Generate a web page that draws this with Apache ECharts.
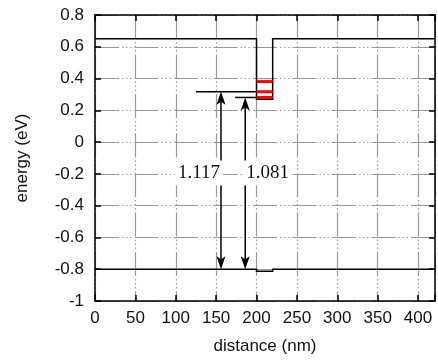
<!DOCTYPE html>
<html>
<head>
<meta charset="utf-8">
<script src="https://cdn.jsdelivr.net/npm/echarts@6/dist/echarts.min.js"></script>
<style>
  html, body { margin: 0; padding: 0; background: #fff; }
  #chart { width: 438px; height: 360px; }
</style>
</head>
<body>
<div id="chart"></div>
<script>
// Band edges along the growth direction (distance in nm, energy in eV)
const conductionBand = [[0, 0.65], [200, 0.65], [200, 0.27], [220, 0.27], [220, 0.65], [421, 0.65]];
const valenceBand = [[0, -0.8], [200, -0.8], [200, -0.812], [220, -0.812], [220, -0.8], [421, -0.8]];

// Confined levels in the well: [xStart, xEnd, energy]
const wellLevels = [[200, 220, 0.381], [200, 220, 0.317], [200, 220, 0.281]];

// Reference lines marking the transition start levels: [xStart, xEnd, energy]
const guideLines = [[125, 200, 0.317], [173.5, 200, 0.281]];

// Transition arrows: [x, upper energy, lower energy]
const transitions = [[156, 0.317, -0.8], [186, 0.281, -0.8]];

// Transition energy labels: [x, energy, text, alignment]
const transitionLabels = [[156, -0.2, '1.117', 'right'], [186, -0.2, '1.081', 'left']];

// Axis ranges and tick spacing
const xRange = [0, 421], xStep = 50;
const yRange = [-1, 0.8], yStep = 0.2;

const gridLine = {
  show: true,
  lineStyle: { color: '#999', width: 1.2, type: [24, 3, 1.5, 2.5, 1.5, 2.5, 1.5, 3] }
};
const sansFont = "'Liberation Sans', Arial, Helvetica, sans-serif";
const axisLineStyle = { show: true, onZero: false, lineStyle: { color: '#000', width: 1.5 } };
const tickStyle = { show: true, inside: true, length: 6, lineStyle: { color: '#000', width: 1.5 } };

// One polyline per band profile, drawn from every point of the profile
function bandRenderer(points) {
  return function (params, api) {
    if (params.dataIndex !== 0) return null;
    return {
      type: 'polyline',
      shape: { points: points.map(p => api.coord(p)) },
      style: { stroke: '#000', lineWidth: 1.5, fill: null, lineJoin: 'miter' }
    };
  };
}

function segmentRenderer(color, width) {
  return function (params, api) {
    const a = api.coord([api.value(0), api.value(2)]);
    const b = api.coord([api.value(1), api.value(2)]);
    return {
      type: 'line',
      shape: { x1: a[0], y1: a[1], x2: b[0], y2: b[1] },
      style: { stroke: color, lineWidth: width }
    };
  };
}

function arrowRenderer(params, api) {
  const x = api.value(0);
  const top = api.coord([x, api.value(1)]);
  const bot = api.coord([x, api.value(2)]);
  const len = 13, half = 4.5, notch = 3;
  const cx = top[0];
  return {
    type: 'group',
    children: [
      {
        type: 'line',
        shape: { x1: cx, y1: top[1] + len - notch, x2: cx, y2: bot[1] - len + notch },
        style: { stroke: '#000', lineWidth: 1.5 }
      },
      {
        type: 'polygon',
        shape: { points: [[cx, top[1]], [cx + half, top[1] + len], [cx, top[1] + len - notch], [cx - half, top[1] + len]] },
        style: { fill: '#000' }
      },
      {
        type: 'polygon',
        shape: { points: [[cx, bot[1]], [cx + half, bot[1] - len], [cx, bot[1] - len + notch], [cx - half, bot[1] - len]] },
        style: { fill: '#000' }
      }
    ]
  };
}

function labelRenderer(params, api) {
  const p = api.coord([api.value(0), api.value(1)]);
  const align = transitionLabels[params.dataIndex][3];
  return {
    type: 'text',
    x: p[0] + (align === 'right' ? 2 : -2),
    y: p[1] - 1,
    style: {
      text: transitionLabels[params.dataIndex][2],
      align: align,
      verticalAlign: 'middle',
      font: "19px 'Liberation Serif', 'Times New Roman', serif",
      fill: '#111',
      backgroundColor: '#fff',
      padding: [3, 3, 3, 3]
    }
  };
}

const chart = echarts.init(document.getElementById('chart'), null, { renderer: 'canvas' });
chart.setOption({
  animation: false,
  backgroundColor: '#fff',
  grid: { left: 95, top: 15, right: 1, bottom: 54, containLabel: false },
  xAxis: [
    {
      type: 'value', position: 'bottom', min: xRange[0], max: xRange[1], interval: xStep,
      name: 'distance (nm)', nameLocation: 'middle', nameGap: 37,
      nameTextStyle: { fontFamily: sansFont, fontSize: 17, color: '#111' },
      axisLine: axisLineStyle, axisTick: tickStyle, splitLine: gridLine,
      axisLabel: {
        margin: 9, fontFamily: sansFont, fontSize: 17, color: '#111',
        formatter: v => (v % xStep === 0 ? String(v) : '')
      }
    },
    {
      type: 'value', position: 'top', min: xRange[0], max: xRange[1], interval: xStep,
      axisLine: axisLineStyle, axisTick: tickStyle, splitLine: { show: false },
      axisLabel: { show: false }
    }
  ],
  yAxis: [
    {
      type: 'value', position: 'left', min: yRange[0], max: yRange[1], interval: yStep,
      name: 'energy (eV)', nameLocation: 'middle', nameGap: 64, nameRotate: 90,
      nameTextStyle: { fontFamily: sansFont, fontSize: 17, color: '#111' },
      axisLine: axisLineStyle, axisTick: tickStyle, splitLine: gridLine,
      axisLabel: {
        margin: 11, fontFamily: sansFont, fontSize: 17, color: '#111',
        formatter: v => String(Math.round(v * 10) / 10)
      }
    },
    {
      type: 'value', position: 'right', min: yRange[0], max: yRange[1], interval: yStep,
      axisLine: axisLineStyle, axisTick: tickStyle, splitLine: { show: false },
      axisLabel: { show: false }
    }
  ],
  series: [
    {
      name: 'conduction band', type: 'custom', data: conductionBand, z: 3,
      encode: { x: 0, y: 1 }, renderItem: bandRenderer(conductionBand)
    },
    {
      name: 'valence band', type: 'custom', data: valenceBand, z: 3,
      encode: { x: 0, y: 1 }, renderItem: bandRenderer(valenceBand)
    },
    {
      name: 'guide lines', type: 'custom', data: guideLines, z: 3,
      encode: { x: [0, 1], y: 2 }, renderItem: segmentRenderer('#000', 1.5)
    },
    {
      name: 'well levels', type: 'custom', data: wellLevels, z: 4,
      encode: { x: [0, 1], y: 2 }, renderItem: segmentRenderer('#ff0000', 3)
    },
    {
      name: 'transitions', type: 'custom', data: transitions, z: 5,
      encode: { x: 0, y: [1, 2] }, renderItem: arrowRenderer
    },
    {
      name: 'transition labels', type: 'custom', data: transitionLabels.map(d => [d[0], d[1]]), z: 6,
      encode: { x: 0, y: 1 }, renderItem: labelRenderer
    }
  ]
});
</script>
</body>
</html>
